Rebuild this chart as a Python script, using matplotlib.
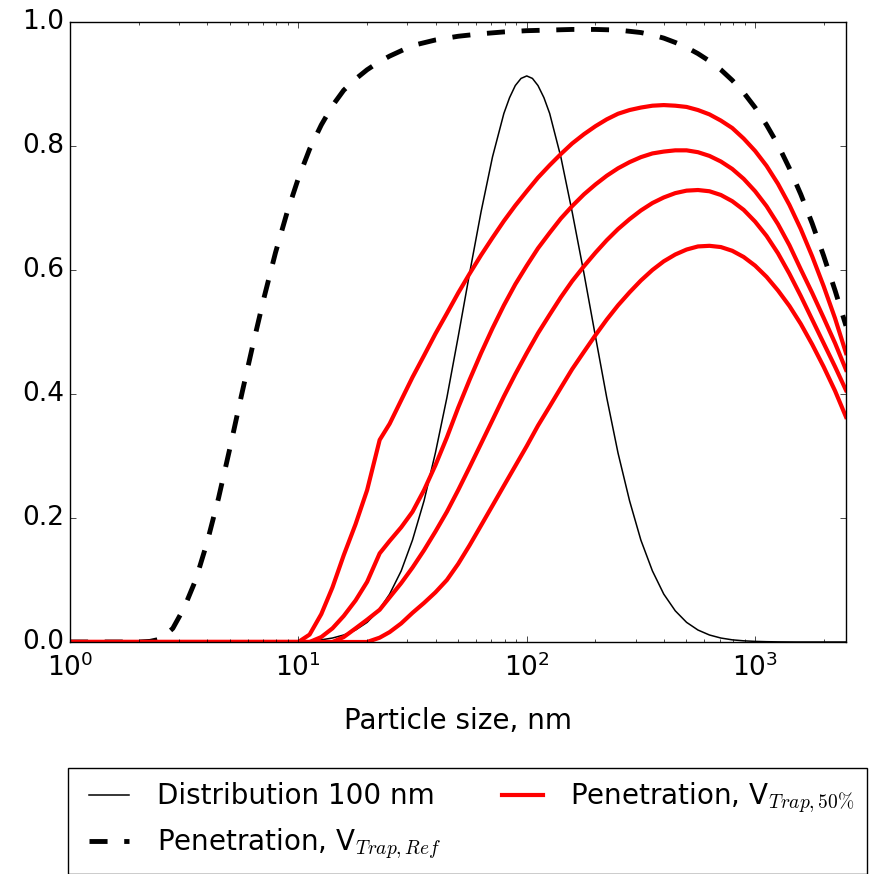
import numpy as np
import matplotlib
matplotlib.use('Agg')
import matplotlib.pyplot as plt

plt.style.use('classic')
plt.rcParams['font.family'] = ['DejaVu Sans']
plt.rcParams['mathtext.fontset'] = 'cm'
plt.rcParams['lines.scale_dashes'] = False

# particle size distribution, 100 nm mode
distX = [1, 5, 10, 11.2, 12.6, 14.1, 15.8, 17.8, 20, 22.4, 25.1, 28.2, 31.6, 35.5, 39.8,
         44.7, 50.1, 56.2, 63.1, 70.8, 79.4, 84.1, 89.1, 94.4, 100, 105.9, 112, 118.9, 126,
         141, 158, 178, 200, 224, 251, 282, 316, 355, 398, 447, 501, 562, 631, 708, 794,
         891, 1000, 1122, 1259, 1500, 2500]
distY = [0, 0, 0.001, 0.0019, 0.0035, 0.0064, 0.0113, 0.0193, 0.0317, 0.0503, 0.0773,
         0.1147, 0.1644, 0.2277, 0.3048, 0.3941, 0.4925, 0.5947, 0.694, 0.7824, 0.8525,
         0.878, 0.8975, 0.909, 0.913, 0.909, 0.8975, 0.878, 0.8525, 0.7824, 0.694, 0.5947,
         0.4925, 0.3941, 0.3048, 0.2277, 0.1644, 0.1147, 0.0773, 0.0503, 0.0317, 0.0193,
         0.0113, 0.0064, 0.0035, 0.0019, 0.001, 0.0005, 0.0002, 0, 0]

# penetration, reference trap
refX = [1, 2, 2.24, 2.51, 2.82, 3.16, 3.55, 3.98, 4.47, 5.01, 5.62, 6.31, 7.08, 7.94, 8.91,
        10, 11.2, 12.6, 14.1, 15.8, 17.8, 20, 22.4, 25.1, 31.6, 39.8, 50.1, 63.1, 79.4, 100,
        126, 158, 200, 251, 282, 316, 355, 398, 447, 501, 562, 631, 708, 794, 891, 1000,
        1122, 1259, 1413, 1585, 1778, 1995, 2239, 2500]
refY = [0, 0, 0.001, 0.005, 0.022, 0.055, 0.1, 0.16, 0.232, 0.312, 0.396, 0.478, 0.556,
        0.628, 0.692, 0.748, 0.795, 0.834, 0.865, 0.89, 0.908, 0.923, 0.935, 0.945, 0.962,
        0.971, 0.977, 0.981, 0.984, 0.986, 0.987, 0.988, 0.988, 0.987, 0.985, 0.983, 0.979,
        0.974, 0.967, 0.959, 0.949, 0.937, 0.923, 0.906, 0.886, 0.862, 0.834, 0.802, 0.764,
        0.722, 0.675, 0.623, 0.567, 0.51]

# penetration, 50% trap volume (four cases)
penX = [1, 5, 10, 11.2, 12.6, 14.1, 15.8, 17.8, 20, 22.7, 25.1, 28.2, 31.6, 35.5, 39.8,
        44.7, 50.1, 56.2, 63.1, 70.8, 79.4, 89.1, 100, 112, 126, 141, 158, 178, 200, 224,
        251, 282, 316, 355, 398, 447, 501, 562, 631, 708, 794, 891, 1000, 1122, 1259, 1413,
        1585, 1778, 1995, 2239, 2500]
pen1 = [0, 0, 0, 0.012, 0.045, 0.088, 0.14, 0.19, 0.245, 0.326, 0.352, 0.39, 0.427, 0.462,
        0.497, 0.53, 0.563, 0.594, 0.624, 0.652, 0.679, 0.704, 0.727, 0.749, 0.769, 0.787,
        0.804, 0.819, 0.832, 0.843, 0.852, 0.858, 0.862, 0.865, 0.866, 0.865, 0.863, 0.858,
        0.851, 0.841, 0.829, 0.812, 0.792, 0.768, 0.739, 0.705, 0.666, 0.622, 0.574, 0.522,
        0.466]
pen2 = [0, 0, 0, 0, 0.008, 0.022, 0.042, 0.067, 0.097, 0.143, 0.163, 0.185, 0.21, 0.245,
        0.285, 0.33, 0.378, 0.423, 0.466, 0.506, 0.543, 0.577, 0.607, 0.635, 0.66, 0.683,
        0.703, 0.722, 0.738, 0.752, 0.764, 0.774, 0.782, 0.788, 0.791, 0.793, 0.793, 0.79,
        0.784, 0.775, 0.763, 0.747, 0.727, 0.703, 0.674, 0.64, 0.601, 0.563, 0.523, 0.482,
        0.439]
pen3 = [0, 0, 0, 0, 0, 0, 0.008, 0.022, 0.036, 0.052, 0.072, 0.095, 0.12, 0.148, 0.178,
        0.21, 0.245, 0.282, 0.32, 0.358, 0.396, 0.432, 0.466, 0.498, 0.528, 0.556, 0.582,
        0.606, 0.628, 0.648, 0.666, 0.682, 0.696, 0.708, 0.717, 0.724, 0.728, 0.729, 0.727,
        0.721, 0.711, 0.697, 0.678, 0.655, 0.627, 0.594, 0.558, 0.52, 0.482, 0.444, 0.406]
pen4 = [0, 0, 0, 0, 0, 0, 0, 0, 0, 0.007, 0.016, 0.03, 0.047, 0.063, 0.08, 0.1, 0.126,
        0.156, 0.188, 0.22, 0.252, 0.284, 0.316, 0.349, 0.38, 0.41, 0.44, 0.468, 0.495,
        0.52, 0.543, 0.564, 0.583, 0.6, 0.614, 0.625, 0.633, 0.638, 0.639, 0.637, 0.631,
        0.621, 0.607, 0.589, 0.567, 0.542, 0.513, 0.48, 0.444, 0.405, 0.363]
penList = [pen1, pen2, pen3, pen4]

fig = plt.figure(figsize=(8.7, 8.74), dpi=100, facecolor='white')
axes = fig.add_axes([70/870, 1-642/874, 776/870, 620/874])

axes.plot(distX, distY, color='black', linewidth=1.1, label='Distribution 100 nm')
axes.plot(refX, refY, color='black', linewidth=3.5, dashes=(13, 12),
          label='Penetration, V$_{Trap,Ref}$')
for i, pen in enumerate(penList):
    axes.plot(penX, pen, color='red', linewidth=3,
              label='Penetration, V$_{Trap,50\\%}$' if i == 0 else None)

axes.set_xscale('log')
axes.set_xlim(1, 2500)
axes.set_ylim(0, 1.0)
axes.set_yticks([0, 0.2, 0.4, 0.6, 0.8, 1.0])
axes.set_xlabel('Particle size, nm', fontsize=20, labelpad=18)
axes.tick_params(labelsize=19)
axes.tick_params(axis='x', pad=8)

fig.legend(loc='upper left', bbox_to_anchor=(68/870, 1-768/874), ncol=2, fontsize=20,
           handlelength=2.05, handletextpad=0.7, columnspacing=1.9, labelspacing=0.6,
           borderpad=0.45, borderaxespad=0, frameon=True, fancybox=False)

fig.savefig('out.png', dpi=100, facecolor='white')
